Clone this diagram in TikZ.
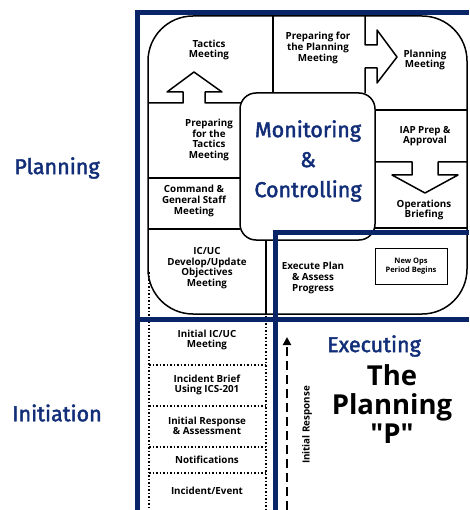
\documentclass[tikz,border=0pt]{standalone}
\usepackage{fontspec}
\setmainfont{Open Sans}
\newfontfamily\phasefont{Fira Sans}[FakeBold=2]
\newfontfamily\bigfont{Open Sans}[Ligatures=TeXOff]
\usetikzlibrary{arrows.meta}
\definecolor{navy}{RGB}{10,36,104}
\definecolor{labelblue}{RGB}{18,46,120}

\begin{document}
\begin{tikzpicture}[x=1pt,y=-1pt,
    box/.style={align=center,inner sep=0pt,font=\bfseries\fontsize{9.8}{10.6}\selectfont},
    phase/.style={align=center,inner sep=0pt,text=labelblue,font=\phasefont\fontsize{21.5}{30}\selectfont},
    wall/.style={line width=1.5pt,line join=round},
    frame/.style={navy,line width=5pt},
    dots/.style={line width=1.8pt,dash pattern=on 1.5pt off 2pt}]
      \useasboundingbox (0,0) rectangle (469,510);
      \draw[wall,rounded corners=45pt] (148,16) rectangle (467,314);
      \draw[wall] (273,16) -- (273,93);
      \draw[wall] (148,103) -- (183,103) -- (183,92) -- (167,92) -- (194,72) -- (222,92) -- (205,92) -- (205,103) -- (241,103);
      \draw[wall] (148,178) -- (240,178);
      \draw[wall] (148,229) -- (240,229);
      \draw[wall] (266,239) -- (266,314);
      \draw[wall] (365,16) -- (365,45) -- (377,45) -- (377,30) -- (397,57) -- (377,83) -- (377,68) -- (365,68) -- (365,93);
      \draw[wall] (375,110) -- (467,110);
      \draw[wall] (375,162) -- (412,162) -- (412,175) -- (392,175) -- (425,193) -- (458,175) -- (438,175) -- (438,162) -- (467,162);
      \draw[wall] (375,228) -- (467,228);
      \draw[wall,fill=white,rounded corners=16pt] (240,93) rectangle (375,240);
      \draw[line width=1pt] (375,248) rectangle (447,284);
      \draw[dots] (149,272) -- (149,510);
      \draw[dots] (266,316) -- (266,510);
      \foreach \y in {365,406,447,473} {
        \draw[dots] (149,\y) -- (266,\y);
      }
      \draw[frame] (137.5,10) -- (137.5,510);
      \draw[frame] (135,12.5) -- (469,12.5);
      \draw[frame] (135,319) -- (469,319);
      \draw[frame] (275,230) -- (275,510);
      \draw[frame] (272.5,232.5) -- (469,232.5);
      \node[box] (tactics) at (209,50) {Tactics\\Meeting};
      \node[box] (preptactics) at (209,140) {Preparing\\for the\\Tactics\\Meeting};
      \node[box] (cgs) at (194,201) {Command \&\\General Staff\\Meeting};
      \node[box] (icuc) at (207,268) {IC/UC\\Develop/Update\\Objectives\\Meeting};
      \node[box] (prepplanning) at (318,48) {Preparing for\\the Planning\\Meeting};
      \node[box] (planning) at (425,60) {Planning\\Meeting};
      \node[box] (iap) at (425,136) {IAP Prep \&\\Approval};
      \node[box] (opsbrief) at (424,210) {Operations\\Briefing};
      \node[box] (execute) at (313,278) {Execute Plan\\\& Assess\\Progress};
      \node[box,font=\bfseries\fontsize{7.5}{8.5}\selectfont] (newops) at (411,266) {New Ops\\Period Begins};
      \node[phase] (monitoring) at (308,161) {Monitoring\\\&\\Controlling};
      \foreach \y/\txt in {340/{Initial IC/UC\\Meeting},385/{Incident Brief\\Using ICS-201},426/{Initial Response\\\& Assessment},460/{Notifications},491/{Incident/Event}} {
        \node[box] (init\y) at (207,\y) {\txt};
      }
      \coordinate (irstart) at (287,510);
      \coordinate (irend) at (287,337);
      \draw[line width=2pt,dash pattern=on 9pt off 5pt,-{Triangle[length=8pt,width=8pt]}] (irstart) -- (irend);
      \node[box,rotate=90] (initresp) at (307,425) {Initial Response};
      \node[phase] (executing) at (374,346) {Executing};
      \node[phase] (phplanning) at (57,168) {Planning};
      \node[phase] (phinitiation) at (57,413) {Initiation};
      \node[align=center,inner sep=0pt,anchor=base,font=\bigfont\bfseries\fontsize{27.5}{29}\selectfont] (thep) at (392,443) {The\\Planning\\"P"};
    \end{tikzpicture}
\end{document}
